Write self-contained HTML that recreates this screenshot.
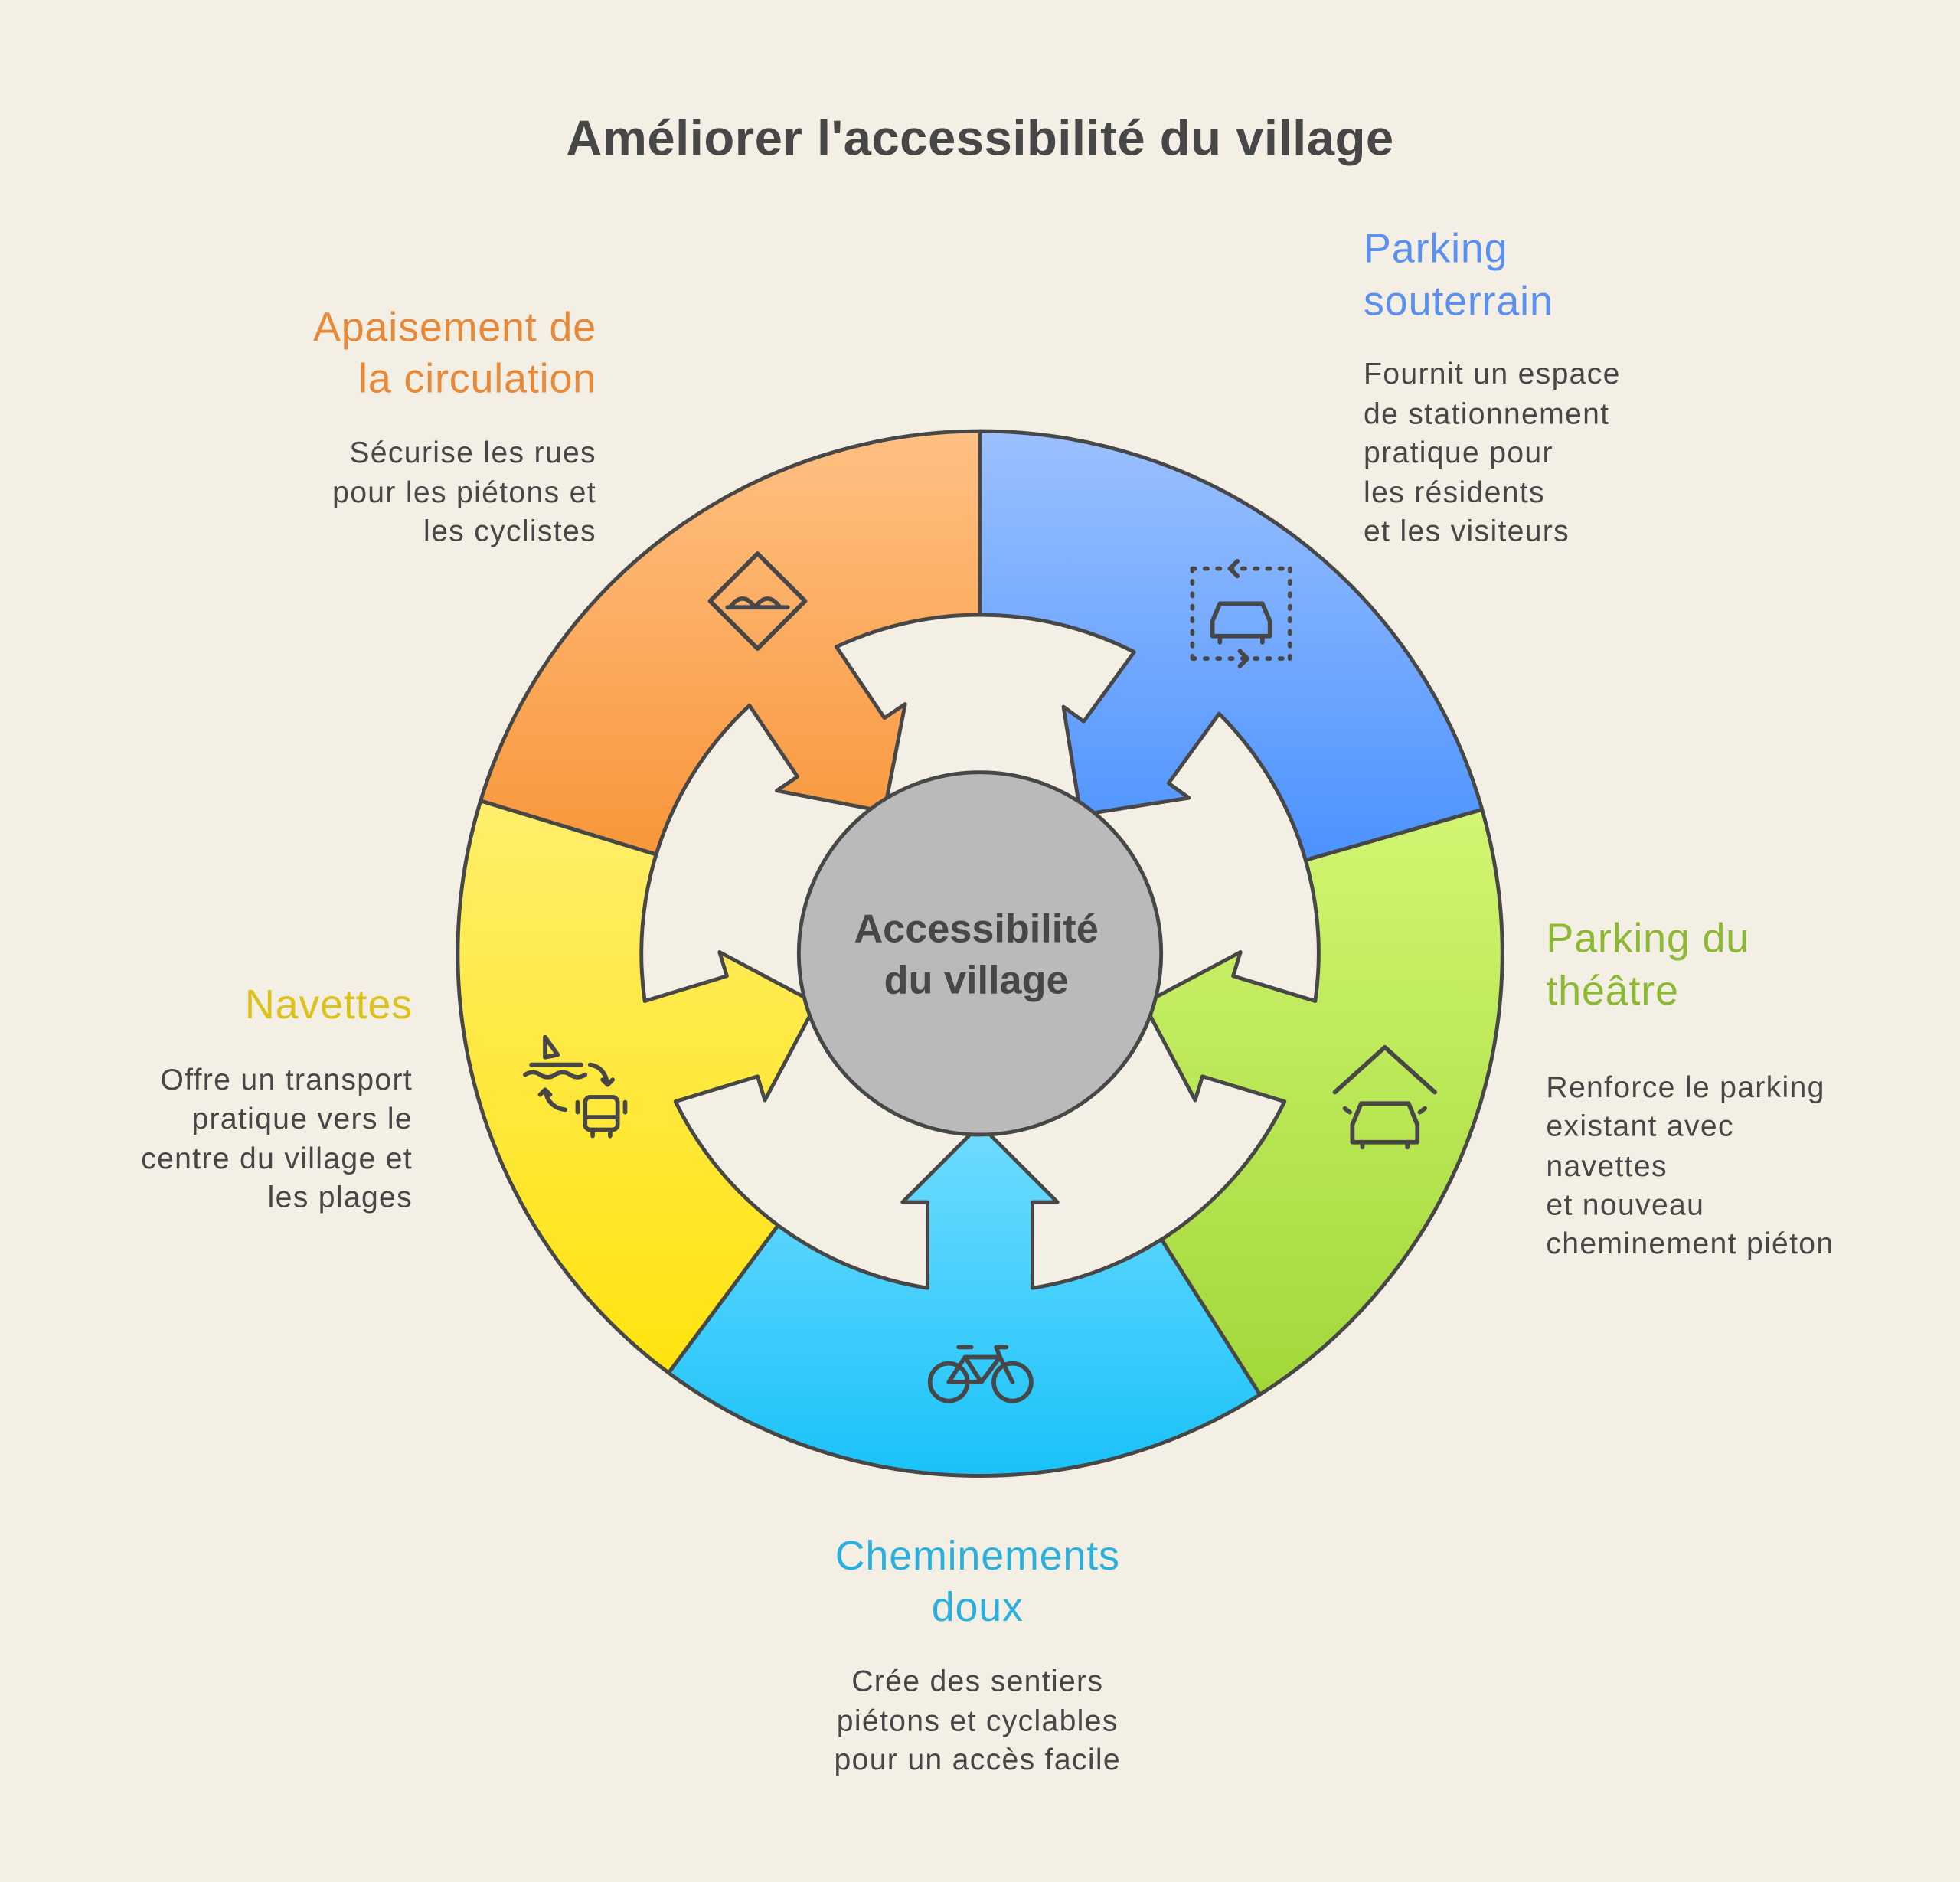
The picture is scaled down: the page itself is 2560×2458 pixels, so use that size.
<!DOCTYPE html>
<html><head><meta charset="utf-8"><style>
html,body{margin:0;padding:0;background:#F3EFE5;}
svg{display:block;}
text{font-family:"Liberation Sans",sans-serif;}
</style></head><body>
<svg width="2560" height="2458" viewBox="0 0 1568 1506" xmlns="http://www.w3.org/2000/svg">
<rect width="1568" height="1506" fill="#F3EFE5"/>
<defs>
<linearGradient id="gO" gradientUnits="userSpaceOnUse" gradientTransform="rotate(-236)" x1="0" y1="-418" x2="0" y2="-80"><stop offset="0" stop-color="#FFC083"/><stop offset="1" stop-color="#F8963A"/></linearGradient>
<linearGradient id="gB" gradientUnits="userSpaceOnUse" gradientTransform="rotate(-306)" x1="0" y1="-418" x2="0" y2="-80"><stop offset="0" stop-color="#9BC0FF"/><stop offset="1" stop-color="#4C93FF"/></linearGradient>
<linearGradient id="gG" gradientUnits="userSpaceOnUse" gradientTransform="rotate(-17)" x1="0" y1="-120" x2="0" y2="350"><stop offset="0" stop-color="#D2F672"/><stop offset="1" stop-color="#A2D83A"/></linearGradient>
<linearGradient id="gC" gradientUnits="userSpaceOnUse" gradientTransform="rotate(-90)" x1="0" y1="130" x2="0" y2="418"><stop offset="0" stop-color="#72DCFF"/><stop offset="1" stop-color="#19C2F9"/></linearGradient>
<linearGradient id="gY" gradientUnits="userSpaceOnUse" gradientTransform="rotate(-163)" x1="0" y1="-120" x2="0" y2="340"><stop offset="0" stop-color="#FFEE6A"/><stop offset="1" stop-color="#FFE30E"/></linearGradient>
</defs>
<g stroke="#474747" stroke-width="3" stroke-linejoin="round">
<path transform="translate(784,763) rotate(236)" fill="url(#gO)" d="M 324.8 -263.0 A 418 418 0 0 1 346.5 233.7 L 224.7 151.5 A 271 271 0 0 0 267.7 42 L 199 42 L 199 62 L 137 0 L 199 -62 L 199 -42 L 267.7 -42 A 271 271 0 0 0 210.6 -170.5 Z"/>
<path transform="translate(784,763) rotate(306)" fill="url(#gB)" d="M 338.2 -245.7 A 418 418 0 0 1 329.4 257.4 L 213.6 166.9 A 271 271 0 0 0 267.7 42 L 199 42 L 199 62 L 137 0 L 199 -62 L 199 -42 L 267.7 -42 A 271 271 0 0 0 219.2 -159.3 Z"/>
<path transform="translate(784,763) rotate(17)" fill="url(#gG)" d="M 350.6 -227.6 A 418 418 0 0 1 317.4 272.0 L 205.8 176.4 A 271 271 0 0 0 267.7 42 L 199 42 L 199 62 L 137 0 L 199 -62 L 199 -42 L 267.7 -42 A 271 271 0 0 0 227.3 -147.6 Z"/>
<path transform="translate(784,763) rotate(90)" fill="url(#gC)" d="M 352.9 -224.0 A 418 418 0 0 1 335.6 249.2 L 217.6 161.6 A 271 271 0 0 0 267.7 42 L 199 42 L 199 62 L 137 0 L 199 -62 L 199 -42 L 267.7 -42 A 271 271 0 0 0 228.8 -145.2 Z"/>
<path transform="translate(784,763) rotate(163)" fill="url(#gY)" d="M 336.4 -248.0 A 418 418 0 0 1 346.5 233.7 L 224.7 151.5 A 271 271 0 0 0 267.7 42 L 199 42 L 199 62 L 137 0 L 199 -62 L 199 -42 L 267.7 -42 A 271 271 0 0 0 218.1 -160.8 Z"/>
<circle cx="784" cy="763" r="145" fill="#BABABA"/>
</g>
<text x="781" y="754" text-anchor="middle" font-size="32" font-weight="bold" fill="#474747">Accessibilité</text>
<text x="781" y="795" text-anchor="middle" font-size="32" font-weight="bold" fill="#474747">du village</text>
<text x="784" y="124" text-anchor="middle" font-size="40" font-weight="bold" fill="#474747" letter-spacing="0.3">Améliorer l'accessibilité du village</text>

<g font-size="33" fill="#5B8FF0" letter-spacing="0.5"><text x="1091" y="210">Parking</text><text x="1091" y="252">souterrain</text></g>
<g font-size="24" fill="#474747" letter-spacing="0.8"><text x="1091" y="307">Fournit un espace</text><text x="1091" y="339">de stationnement</text><text x="1091" y="370">pratique pour</text><text x="1091" y="402">les résidents</text><text x="1091" y="433">et les visiteurs</text></g>

<g font-size="33" fill="#E8893A" text-anchor="end" letter-spacing="0.5"><text x="477" y="273">Apaisement de</text><text x="477" y="314">la circulation</text></g>
<g font-size="24" fill="#474747" text-anchor="end" letter-spacing="0.8"><text x="477" y="370">Sécurise les rues</text><text x="477" y="402">pour les piétons et</text><text x="477" y="433">les cyclistes</text></g>

<g font-size="33" fill="#8DB834" letter-spacing="0.5"><text x="1237" y="762">Parking du</text><text x="1237" y="804">théâtre</text></g>
<g font-size="24" fill="#474747" letter-spacing="0.8"><text x="1237" y="878">Renforce le parking</text><text x="1237" y="909">existant avec</text><text x="1237" y="941">navettes</text><text x="1237" y="972">et nouveau</text><text x="1237" y="1003">cheminement piéton</text></g>

<text x="330" y="815" font-size="33" fill="#DDC21C" text-anchor="end" letter-spacing="0.5">Navettes</text>
<g font-size="24" fill="#474747" text-anchor="end" letter-spacing="0.8"><text x="330" y="872">Offre un transport</text><text x="330" y="903">pratique vers le</text><text x="330" y="935">centre du village et</text><text x="330" y="966">les plages</text></g>

<g font-size="33" fill="#2BB0DE" text-anchor="middle" letter-spacing="0.5"><text x="782" y="1256">Cheminements</text><text x="782" y="1297">doux</text></g>
<g font-size="24" fill="#474747" text-anchor="middle" letter-spacing="0.8"><text x="782" y="1353">Crée des sentiers</text><text x="782" y="1385">piétons et cyclables</text><text x="782" y="1416">pour un accès facile</text></g>

<g fill="none" stroke="#474747" stroke-width="3.5" stroke-linecap="round" stroke-linejoin="round">
<path d="M606 443 L644 481 L606 519 L568 481 Z"/>
<path d="M584 486 Q594 472 604 486 Q614 472 624 486 M582 486 L630 486"/>
<path d="M954 455 V527 M1032 455 V527 M954 455 H1032 M954 527 H1032" stroke-dasharray="2 8"/>
<path d="M990 449 l-6 6 l6 6 M992 521 l6 6 l-6 6"/>
<path d="M970 497 l6 -14 h34 l6 14 v12 h-46 z M976 509 v5 M1010 509 v5"/>
<path d="M1068 874 L1108 838 L1148 874"/>
<path d="M1082 900 l7 -17 h38 l7 17 v14 h-52 z M1090 914 v4 M1126 914 v4 M1080 890 l-4 -3 M1136 890 l4 -3"/>
<path d="M425 852 h40 M420 860 q6 -4 12 0 q6 4 12 0 q6 -4 12 0 q6 4 12 0 M436 846 V830 l10 14 z"/>
<path d="M472 852 q12 2 14 16 l-4 -4 m4 4 l4 -4"/>
<path d="M452 888 q-14 -2 -16 -16 l-4 4 m4 -4 l4 4"/>
<rect x="468" y="878" width="26" height="26" rx="4"/><path d="M468 894 h26 M474 904 v5 M488 904 v5 M462 882 v8 M500 882 v8"/>
<circle cx="759" cy="1106" r="15"/><circle cx="810" cy="1106" r="15"/>
<path d="M759 1106 L772 1086 H800 L810 1106 M772 1086 L785 1106 L800 1086 M767 1078 h10 M800 1086 L797 1078 h8 M759 1106 h26"/>
</g>
</svg>
</body></html>
